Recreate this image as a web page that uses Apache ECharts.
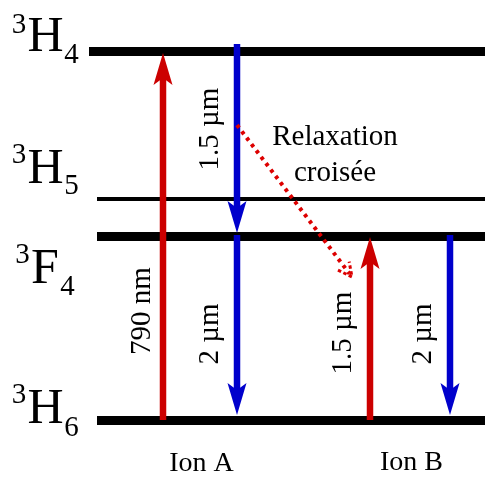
<!DOCTYPE html>
<html>
<head>
<meta charset="utf-8">
<title>Relaxation croisée</title>
<script src="https://cdn.jsdelivr.net/npm/echarts@6/dist/echarts.min.js"></script>
<style>
  html, body { margin: 0; padding: 0; background: #fff; }
  #chart { width: 485px; height: 477px; }
</style>
</head>
<body>
<div id="chart"></div>
<script>
// niveaux d'énergie (unités du schéma, pas à l'échelle)
const levelSpin = ['3', '3', '3', '3'];
const levelTerm = ['H', 'H', 'F', 'H'];
const levelJ = ['4', '5', '4', '6'];
const levelEnergy = [425.7, 278, 241, 57];
const levelFrom = [89, 97, 97, 97];
const levelTo = [485, 485, 485, 485];

// transitions : point de départ -> point d'arrivée
const transLabels = ['790 nm', '1.5 µm', '2 µm', '1.5 µm', '2 µm', ''];
const transX0 = [163, 237, 237, 370, 450, 237];
const transY0 = [57, 433, 242, 57, 242, 352];
const transX1 = [163, 237, 237, 370, 450, 352];
const transY1 = [424, 244, 62, 240, 62, 200];
const transType = ['absorb', 'emit', 'emit', 'absorb', 'emit', 'relax'];

const ionLabels = ['Ion A', 'Ion B'];
const relaxLabel = ['Relaxation', 'croisée'];

// styles
const levelWidth = [9, 4, 9, 9];
const colorMap = {absorb: '#cc0000', emit: '#0000cc', relax: '#dd0000'};
const serif = 'Liberation Serif';

const chart = echarts.init(document.getElementById('chart'));

function renderArrow(params, api) {
  const a = api.coord([api.value(0), api.value(1)]);
  const b = api.coord([api.value(2), api.value(3)]);
  const type = transType[params.dataIndex];
  const color = colorMap[type];
  const dx = b[0] - a[0], dy = b[1] - a[1];
  const len = Math.sqrt(dx * dx + dy * dy);
  const ux = dx / len, uy = dy / len;
  const px = -uy, py = ux;

  if (type === 'relax') {
    // pointillés + petite tête ouverte
    const hl = 14, hw = 7;
    const bx = b[0] - ux * hl, by = b[1] - uy * hl;
    return {
      type: 'group',
      children: [
        {
          type: 'line',
          shape: {x1: a[0], y1: a[1], x2: b[0] - ux * 4, y2: b[1] - uy * 4},
          style: {stroke: color, lineWidth: 4, lineDash: [3.5, 4.5]}
        },
        {
          type: 'polyline',
          shape: {points: [[bx + px * hw, by + py * hw], [b[0], b[1]], [bx - px * hw, by - py * hw]]},
          style: {stroke: color, fill: null, lineWidth: 3, lineDash: [3.5, 2.5]}
        }
      ]
    };
  }

  const hl = 32, hw = 9.5, notch = 7;
  const bx = b[0] - ux * hl, by = b[1] - uy * hl;
  const nx = bx + ux * notch, ny = by + uy * notch;
  return {
    type: 'group',
    children: [
      {
        type: 'line',
        shape: {x1: a[0], y1: a[1], x2: nx + ux * 2, y2: ny + uy * 2},
        style: {stroke: color, lineWidth: 6.5}
      },
      {
        type: 'polygon',
        shape: {points: [[b[0], b[1]], [bx + px * hw, by + py * hw], [nx, ny], [bx - px * hw, by - py * hw]]},
        style: {fill: color}
      }
    ]
  };
}

function txt(x, y, text, size, rotation) {
  return {
    type: 'text',
    x: x,
    y: y,
    rotation: rotation || 0,
    silent: true,
    style: {
      text: text,
      x: 0,
      y: 0,
      fill: '#000',
      fontSize: size,
      fontFamily: serif,
      align: 'center',
      verticalAlign: 'middle'
    }
  };
}

// positions des étiquettes de niveaux : [exposant], [terme], [indice]
const labelPos = [
  [[19, 25], [45.5, 38], [71.5, 55]],
  [[19, 155], [45.5, 169.5], [71.5, 186]],
  [[22.5, 255], [45, 269.5], [67.5, 287]],
  [[19, 395], [45.5, 409.5], [71.5, 428]]
];
const graphics = [];
levelTerm.forEach((t, i) => {
  const p = labelPos[i];
  graphics.push(txt(p[0][0], p[0][1], levelSpin[i], 29));
  graphics.push(txt(p[1][0], p[1][1], t, 50));
  graphics.push(txt(p[2][0], p[2][1], levelJ[i], 29));
});

// étiquettes des transitions (verticales)
const transLabelPos = [[142, 311], [210, 129], [210, 334], [343, 333], [423, 334], null];
transLabels.forEach((t, i) => {
  if (!t) return;
  graphics.push(txt(transLabelPos[i][0], transLabelPos[i][1], t, 29, Math.PI / 2));
});

graphics.push(txt(335, 137.5, relaxLabel[0], 29));
graphics.push(txt(335, 173.5, relaxLabel[1], 29));
graphics.push(txt(201.5, 463.5, ionLabels[0], 28));
graphics.push(txt(411.5, 462.5, ionLabels[1], 28));

const option = {
  animation: false,
  backgroundColor: '#fff',
  grid: {left: 0, right: 0, top: 0, bottom: 0},
  xAxis: {type: 'value', min: 0, max: 485, show: false},
  yAxis: {type: 'value', min: 0, max: 477, show: false},
  series: [
    {
      name: 'niveaux',
      type: 'lines',
      coordinateSystem: 'cartesian2d',
      silent: true,
      z: 1,
      lineStyle: {color: '#000', opacity: 1, curveness: 0},
      data: levelEnergy.map((e, i) => ({
        coords: [[levelFrom[i], e], [levelTo[i], e]],
        lineStyle: {width: levelWidth[i]}
      }))
    },
    {
      name: 'transitions',
      type: 'custom',
      coordinateSystem: 'cartesian2d',
      silent: true,
      clip: false,
      z: 2,
      renderItem: renderArrow,
      encode: {x: [0, 2], y: [1, 3]},
      data: transX0.map((x, i) => [x, transY0[i], transX1[i], transY1[i]])
    }
  ],
  graphic: graphics
};

chart.setOption(option);
</script>
</body>
</html>
